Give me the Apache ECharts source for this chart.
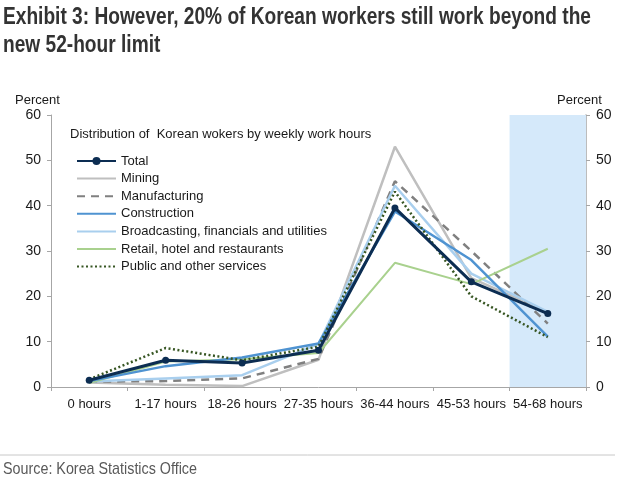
<!DOCTYPE html>
<html>
<head>
<meta charset="utf-8">
<script src="https://cdn.jsdelivr.net/npm/echarts@6/dist/echarts.min.js"></script>
<style>
html,body{margin:0;padding:0;background:#fff;}
#c{width:620px;height:484px;}
</style>
</head>
<body>
<div id="c"></div>
<script>
const categories = ['0 hours','1-17 hours','18-26 hours','27-35 hours','36-44 hours','45-53 hours','54-68 hours'];
const total        = [1.5, 5.9, 5.3, 8.1, 39.5, 23.2, 16.2];
const mining       = [1.0, 0.5, 0.2, 6.0, 53.0, 24.0, 16.5];
const manufacturing= [1.2, 1.3, 1.9, 6.2, 45.4, 30.0, 14.0];
const construction = [1.3, 4.6, 6.5, 9.6, 38.7, 28.0, 11.1];
const broadcasting = [1.2, 1.9, 2.6, 9.5, 44.4, 25.0, 16.6];
const retail       = [0.9, 5.6, 6.1, 7.5, 27.4, 22.7, 30.5];
const publicSvc    = [1.7, 8.6, 5.9, 8.9, 43.1, 20.0, 11.0];
const shadedBand   = [null, null, null, null, null, null, 60];
const yTicks = {min: 0, max: 60, interval: 10};

const seriesNames = ['Total','Mining','Manufacturing','Construction','Broadcasting, financials and utilities','Retail, hotel and restaurants','Public and other services'];

const titleLine1 = 'Exhibit 3: However, 20% of Korean workers still work beyond the';
const titleLine2 = 'new 52-hour limit';
const sourceText = 'Source: Korea Statistics Office';

const chart = echarts.init(document.getElementById('c'), null, {renderer: 'canvas'});
const txt = '#1a1a1a';
const axisGrey = '#a6a6a6';
const baseFont = 'Liberation Sans, Arial, sans-serif';

const titleFont = 'bold 23px "Liberation Sans", Arial, sans-serif';
const sourceFont = '17px "Liberation Sans", Arial, sans-serif';
const mctx = document.createElement('canvas').getContext('2d');
mctx.font = titleFont;
const titleScale = 588 / mctx.measureText(titleLine1).width;
mctx.font = sourceFont;
const sourceScale = 194 / mctx.measureText(sourceText).width;

function lineSeries(name, data, color, width, type, z) {
  return {
    name: name, type: 'line', data: data, yAxisIndex: 0,
    symbol: 'none', showSymbol: false, z: z,
    lineStyle: {color: color, width: width, type: type || 'solid'},
    itemStyle: {color: color},
    emphasis: {disabled: true}, animation: false
  };
}

const legendData = seriesNames.map(function (n) {
  return n === 'Total' ? {name: n} : {name: n, itemStyle: {opacity: 0}};
});

const option = {
  animation: false,
  grid: {left: 51, right: 34, top: 115, bottom: 97, containLabel: false},
  xAxis: {
    type: 'category', data: categories, boundaryGap: true,
    axisLine: {lineStyle: {color: axisGrey, width: 1}},
    axisTick: {show: true, length: 4, lineStyle: {color: axisGrey}},
    axisLabel: {color: txt, fontSize: 13, fontFamily: baseFont, margin: 11, interval: 0},
    splitLine: {show: false}
  },
  yAxis: [
    {type: 'value', position: 'left', min: yTicks.min, max: yTicks.max, interval: yTicks.interval,
     axisLine: {show: true, lineStyle: {color: axisGrey, width: 1}},
     axisTick: {show: true, length: 4, lineStyle: {color: axisGrey}},
     axisLabel: {color: txt, fontSize: 14, fontFamily: baseFont, margin: 10},
     splitLine: {show: false}},
    {type: 'value', position: 'right', min: yTicks.min, max: yTicks.max, interval: yTicks.interval,
     axisLine: {show: true, lineStyle: {color: axisGrey, width: 1.5}},
     axisTick: {show: true, length: 4, lineStyle: {color: axisGrey}},
     axisLabel: {color: txt, fontSize: 14, fontFamily: baseFont, margin: 10},
     splitLine: {show: false}}
  ],
  legend: {
    data: legendData, orient: 'vertical', left: 76, top: 154, padding: 0,
    itemWidth: 39, itemHeight: 10, itemGap: 3.6,
    textStyle: {color: txt, fontSize: 13, fontFamily: baseFont, lineHeight: 14},
    selectedMode: false
  },
  graphic: [
    {type: 'text', x: 3, y: 4, scaleX: titleScale, style: {text: titleLine1 + '\n' + titleLine2, fill: '#333333', font: titleFont, lineHeight: 28}},
    {type: 'text', left: 15, top: 94, style: {text: 'Percent', fill: txt, font: '13px ' + baseFont}},
    {type: 'text', left: 557, top: 94, style: {text: 'Percent', fill: txt, font: '13px ' + baseFont}},
    {type: 'text', left: 70, top: 128, style: {text: 'Distribution of  Korean wokers by weekly work hours', fill: txt, font: '13px ' + baseFont}},
    {type: 'line', shape: {x1: 0, y1: 455, x2: 615, y2: 455}, style: {stroke: '#c8c8c8', lineWidth: 1}},
    {type: 'text', x: 3, y: 461, scaleX: sourceScale, style: {text: sourceText, fill: '#595959', font: sourceFont}}
  ],
  series: [
    {name: 'band', type: 'bar', data: shadedBand, barWidth: '100%', barCategoryGap: '0%', z: 0, silent: true,
     itemStyle: {color: '#d5e9fa'}, emphasis: {disabled: true}},
    lineSeries('Mining', mining, '#bfbfbf', 2.5, 'solid', 2),
    lineSeries('Manufacturing', manufacturing, '#808080', 2.5, [8, 6], 3),
    lineSeries('Broadcasting, financials and utilities', broadcasting, '#a9cfee', 2.5, 'solid', 4),
    lineSeries('Retail, hotel and restaurants', retail, '#a9d18e', 2, 'solid', 5),
    lineSeries('Construction', construction, '#4f93d1', 2.5, 'solid', 6),
    lineSeries('Public and other services', publicSvc, '#375623', 2.5, [2, 2.5], 7),
    {name: 'Total', type: 'line', data: total, z: 8, symbol: 'circle', symbolSize: 7, showSymbol: true,
     lineStyle: {color: '#0c2d52', width: 3}, itemStyle: {color: '#0c2d52'}, emphasis: {disabled: true}}
  ]
};
chart.setOption(option);
</script>
</body>
</html>
